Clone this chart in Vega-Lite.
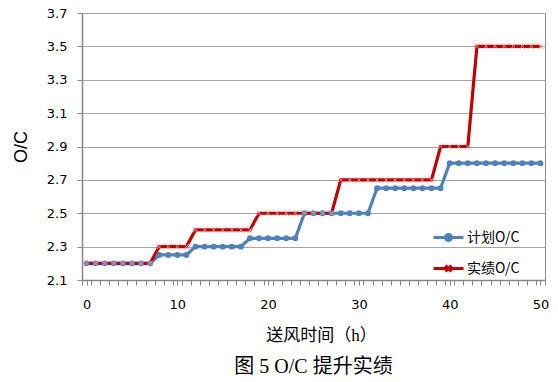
{
  "$schema": "https://vega.github.io/schema/vega-lite/v6.json",
  "width": 463,
  "height": 267,
  "autosize": {"type": "none"},
  "padding": {"left": 82, "top": 13, "right": 13, "bottom": 102},
  "background": "white",
  "config": {
    "view": {"stroke": "#8c8c8c", "strokeWidth": 1},
    "font": "DejaVu Sans"
  },
  "title": {
    "text": "图 5 O/C 提升实绩",
    "orient": "bottom",
    "anchor": "middle",
    "frame": "group",
    "offset": 10,
    "dy": 4,
    "baseline": "top",
    "font": "Liberation Serif, Noto Sans CJK SC",
    "fontSize": 20,
    "fontWeight": "normal",
    "color": "#000000"
  },
  "data": {
    "values": [
      {"t": 0, "计划": 2.2, "实绩": 2.2},
      {"t": 1, "计划": 2.2, "实绩": 2.2},
      {"t": 2, "计划": 2.2, "实绩": 2.2},
      {"t": 3, "计划": 2.2, "实绩": 2.2},
      {"t": 4, "计划": 2.2, "实绩": 2.2},
      {"t": 5, "计划": 2.2, "实绩": 2.2},
      {"t": 6, "计划": 2.2, "实绩": 2.2},
      {"t": 7, "计划": 2.2, "实绩": 2.2},
      {"t": 8, "计划": 2.25, "实绩": 2.3},
      {"t": 9, "计划": 2.25, "实绩": 2.3},
      {"t": 10, "计划": 2.25, "实绩": 2.3},
      {"t": 11, "计划": 2.25, "实绩": 2.3},
      {"t": 12, "计划": 2.3, "实绩": 2.4},
      {"t": 13, "计划": 2.3, "实绩": 2.4},
      {"t": 14, "计划": 2.3, "实绩": 2.4},
      {"t": 15, "计划": 2.3, "实绩": 2.4},
      {"t": 16, "计划": 2.3, "实绩": 2.4},
      {"t": 17, "计划": 2.3, "实绩": 2.4},
      {"t": 18, "计划": 2.35, "实绩": 2.4},
      {"t": 19, "计划": 2.35, "实绩": 2.5},
      {"t": 20, "计划": 2.35, "实绩": 2.5},
      {"t": 21, "计划": 2.35, "实绩": 2.5},
      {"t": 22, "计划": 2.35, "实绩": 2.5},
      {"t": 23, "计划": 2.35, "实绩": 2.5},
      {"t": 24, "计划": 2.5, "实绩": 2.5},
      {"t": 25, "计划": 2.5, "实绩": 2.5},
      {"t": 26, "计划": 2.5, "实绩": 2.5},
      {"t": 27, "计划": 2.5, "实绩": 2.5},
      {"t": 28, "计划": 2.5, "实绩": 2.7},
      {"t": 29, "计划": 2.5, "实绩": 2.7},
      {"t": 30, "计划": 2.5, "实绩": 2.7},
      {"t": 31, "计划": 2.5, "实绩": 2.7},
      {"t": 32, "计划": 2.65, "实绩": 2.7},
      {"t": 33, "计划": 2.65, "实绩": 2.7},
      {"t": 34, "计划": 2.65, "实绩": 2.7},
      {"t": 35, "计划": 2.65, "实绩": 2.7},
      {"t": 36, "计划": 2.65, "实绩": 2.7},
      {"t": 37, "计划": 2.65, "实绩": 2.7},
      {"t": 38, "计划": 2.65, "实绩": 2.7},
      {"t": 39, "计划": 2.65, "实绩": 2.9},
      {"t": 40, "计划": 2.8, "实绩": 2.9},
      {"t": 41, "计划": 2.8, "实绩": 2.9},
      {"t": 42, "计划": 2.8, "实绩": 2.9},
      {"t": 43, "计划": 2.8, "实绩": 3.5},
      {"t": 44, "计划": 2.8, "实绩": 3.5},
      {"t": 45, "计划": 2.8, "实绩": 3.5},
      {"t": 46, "计划": 2.8, "实绩": 3.5},
      {"t": 47, "计划": 2.8, "实绩": 3.5},
      {"t": 48, "计划": 2.8, "实绩": 3.5},
      {"t": 49, "计划": 2.8, "实绩": 3.5},
      {"t": 50, "计划": 2.8, "实绩": 3.5}
    ]
  },
  "transform": [
    {"fold": ["计划", "实绩"], "as": ["series", "value"]}
  ],
  "encoding": {
    "x": {
      "field": "t",
      "type": "quantitative",
      "scale": {"domain": [-0.5, 50.5], "nice": false, "zero": false},
      "axis": {
        "title": "送风时间（h）",
        "titleFont": "Liberation Serif, Noto Sans CJK SC",
        "titleFontSize": 17,
        "titleFontWeight": "normal",
        "titleColor": "#000000",
        "titleX": 239,
        "titleY": 55,
        "titleBaseline": "middle",
        "values": [-0.5, 0, 0.5, 1.5, 2.5, 3.5, 4.5, 5.5, 6.5, 7.5, 8.5, 9.5, 10, 10.5, 11.5, 12.5, 13.5, 14.5, 15.5, 16.5, 17.5, 18.5, 19.5, 20, 20.5, 21.5, 22.5, 23.5, 24.5, 25.5, 26.5, 27.5, 28.5, 29.5, 30, 30.5, 31.5, 32.5, 33.5, 34.5, 35.5, 36.5, 37.5, 38.5, 39.5, 40, 40.5, 41.5, 42.5, 43.5, 44.5, 45.5, 46.5, 47.5, 48.5, 49.5, 50, 50.5],
        "labelExpr": "datum.value % 10 === 0 ? datum.label : ''",
        "labelOverlap": false,
        "labelFlush": false,
        "labelFont": "DejaVu Sans",
        "labelFontSize": 13,
        "labelColor": "#000000",
        "labelPadding": 13,
        "grid": false,
        "domainColor": "#868686",
        "domainWidth": 1.5,
        "tickColor": "#868686",
        "tickSize": 5,
        "encode": {
          "ticks": {"update": {"opacity": {"signal": "datum.value % 10 === 0 ? 0 : 1"}}}
        }
      }
    },
    "y": {
      "field": "value",
      "type": "quantitative",
      "scale": {"domain": [2.1, 3.7], "nice": false, "zero": false},
      "axis": {
        "title": "O/C",
        "titleFont": "Liberation Sans",
        "titleFontSize": 18,
        "titleFontWeight": "normal",
        "titleColor": "#000000",
        "titleX": -61,
        "titleBaseline": "middle",
        "values": [2.1, 2.3, 2.5, 2.7, 2.9, 3.1, 3.3, 3.5, 3.7],
        "format": ".1f",
        "labelFont": "DejaVu Sans",
        "labelFontSize": 13,
        "labelColor": "#000000",
        "labelPadding": 10,
        "grid": true,
        "gridColor": "#a6a6a6",
        "gridWidth": 1,
        "domainColor": "#868686",
        "domainWidth": 1.5,
        "tickColor": "#868686",
        "tickSize": 5
      }
    }
  },
  "layer": [
    {
      "mark": {"type": "line", "strokeWidth": 3.2},
      "encoding": {
        "color": {
          "field": "series",
          "type": "nominal",
          "scale": {"domain": ["计划", "实绩"], "range": ["#4f81bd", "#c00000"]},
          "legend": {
            "title": null,
            "orient": "none",
            "legendX": 350,
            "legendY": 208,
            "labelExpr": "datum.label + 'O/C'",
            "labelFont": "Noto Sans CJK SC",
            "labelFontSize": 14,
            "labelColor": "#000000",
            "symbolSize": 900,
            "symbolStrokeWidth": 3,
            "rowPadding": 5,
            "labelOffset": 2,
            "encode": {
              "symbols": {
                "update": {
                  "shape": {"signal": "datum.value === '计划' ? 'M-1,0H1M-0.2,0A0.2,0.2 0 1,1 0.2,0A0.2,0.2 0 1,1 -0.2,0Z' : 'M-1,0H1M-0.2,-0.2L0.2,0.2M-0.2,0.2L0.2,-0.2'"},
                  "fill": {"signal": "datum.value === '计划' ? '#4f81bd' : 'transparent'"}
                }
              }
            }
          }
        }
      }
    },
    {
      "transform": [{"filter": "datum.series === '计划'"}],
      "mark": {"type": "point", "shape": "circle", "filled": true, "size": 34, "color": "#4f81bd", "opacity": 1}
    },
    {
      "transform": [{"filter": "datum.series === '实绩'"}],
      "mark": {"type": "point", "shape": "M-1,-1L1,1M-1,1L1,-1", "filled": false, "size": 30, "color": "#f29a9a", "strokeWidth": 1, "opacity": 0.9}
    }
  ]
}
